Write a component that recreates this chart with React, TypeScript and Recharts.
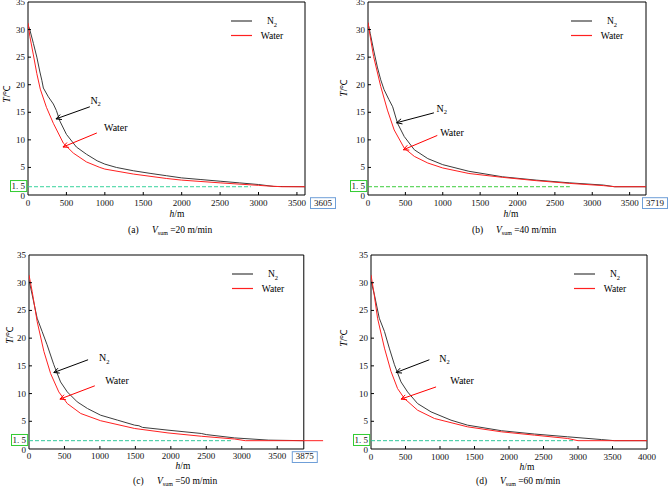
import React from "react";
import { LineChart, Line, XAxis, YAxis, ReferenceArea, ReferenceLine, ReferenceDot, Legend } from "recharts";

// series names
const SERIES = ["N2", "Water"];
const SERIES_COLORS = ["#3c3c3c", "#ff2020"];

// sinking speed of each case, m/min
const SPEEDS = [20, 40, 50, 60];
const TAGS = ["(a)", "(b)", "(c)", "(d)"];
// depth where the pipe reaches the target temperature
const END_DEPTHS = [3605, 3719, 3875, 4000];
const TARGET_T = 1.5;

const X_TICKS = [0, 500, 1000, 1500, 2000, 2500, 3000, 3500];
const Y_TICKS = [0, 1.5, 5, 10, 15, 20, 25, 30, 35];
const Y_SIDE_TICKS = [5, 10, 15, 20, 25, 30];

// (a) 20 m/min
const hA_N2 = [0, 25, 70, 115, 155, 180, 200, 265, 330, 370, 415, 500, 630, 760, 900, 1000, 1150, 1370, 1600, 1800, 2000, 2250, 2500, 2750, 3000, 3200, 3605];
const tA_N2 = [30.9, 29.9, 27.5, 25.0, 22.3, 20.8, 19.4, 17.8, 16.5, 15.3, 13.4, 11.0, 8.7, 7.4, 6.2, 5.6, 5.0, 4.4, 3.9, 3.5, 3.1, 2.8, 2.5, 2.2, 1.9, 1.55, 1.5];
const hA_W = [0, 25, 70, 115, 160, 240, 330, 460, 590, 760, 935, 1000, 1370, 1800, 2000, 2500, 3000, 3100, 3300, 3605];
const tA_W = [31.2, 28.7, 25.4, 22.0, 19.2, 15.9, 13.0, 9.4, 7.6, 6.0, 5.0, 4.7, 3.8, 3.0, 2.7, 2.2, 1.75, 1.65, 1.5, 1.5];

// (b) 40 m/min
const hB_N2 = [0, 30, 75, 125, 170, 215, 280, 330, 395, 485, 620, 800, 1000, 1350, 1800, 2250, 2700, 3150, 3300, 3719];
const tB_N2 = [31.2, 29.3, 26.3, 23.2, 20.9, 19.1, 17.3, 16.0, 13.0, 10.6, 8.2, 6.6, 5.5, 4.3, 3.3, 2.7, 2.2, 1.8, 1.5, 1.5];
const hB_W = [0, 30, 75, 170, 260, 350, 485, 620, 800, 1000, 1350, 1800, 2250, 2700, 3150, 3300, 3719];
const tB_W = [31.3, 28.7, 25.1, 19.7, 15.4, 11.8, 8.5, 7.0, 5.8, 4.9, 3.9, 3.2, 2.6, 2.1, 1.7, 1.5, 1.5];

// (c) 50 m/min
const hC_N2 = [0, 45, 115, 185, 255, 350, 445, 540, 680, 825, 1010, 1250, 1490, 1550, 1600, 1960, 2430, 2500, 2900, 3380, 3875];
const tC_N2 = [30.5, 27.8, 23.6, 21.2, 18.8, 15.2, 12.1, 10.3, 8.5, 7.3, 6.1, 5.2, 4.3, 4.2, 3.9, 3.4, 2.8, 2.6, 2.0, 1.6, 1.5];
const hC_W = [0, 45, 115, 210, 305, 420, 540, 730, 1010, 1490, 1960, 2430, 2900, 3050, 4150];
const tC_W = [31.4, 28.4, 23.0, 17.6, 13.6, 10.3, 8.2, 6.4, 5.1, 3.7, 2.9, 2.3, 1.8, 1.5, 1.5];

// (d) 60 m/min
const hD_N2 = [0, 50, 120, 195, 265, 340, 435, 530, 675, 870, 1160, 1400, 1890, 2370, 2850, 3340, 3530, 4000];
const tD_N2 = [30.3, 27.8, 23.6, 21.2, 18.2, 15.2, 12.1, 10.3, 8.2, 6.7, 5.2, 4.3, 3.3, 2.7, 2.2, 1.7, 1.5, 1.5];
const hD_W = [0, 40, 95, 195, 290, 385, 485, 675, 920, 1400, 1890, 2370, 2850, 3000, 4000];
const tD_W = [31.4, 28.4, 23.6, 18.2, 14.0, 10.9, 9.1, 7.0, 5.5, 4.0, 3.1, 2.5, 1.9, 1.5, 1.5];

type Pt = { h: number; T: number };
const zip = (hs: number[], ts: number[]): Pt[] => hs.map((h, i) => ({ h, T: ts[i] }));

const FONT = "'Liberation Serif', 'Times New Roman', serif";
const L = 36;
const TOP = 8;
const R = 38;
const B = 42;

type Anno = { text: [number, number]; tail: [number, number]; head: [number, number] };

type PanelCfg = {
  idx: number;
  left: number;
  top: number;
  w: number;
  h: number;
  xMax: number;
  n2: Pt[];
  water: Pt[];
  boxDx: number;
  dashEnd: number;
  dashColor: string;
  xTitle: [number, number];
  yTitle: [number, number];
  caption: [number, number];
  rightTicks: boolean;
  n2Anno: Anno;
  wAnno: Anno;
};

const PANELS: PanelCfg[] = [
  {
    idx: 0, left: 28, top: 2, w: 277, h: 193, xMax: END_DEPTHS[0],
    n2: zip(hA_N2, tA_N2), water: zip(hA_W, tA_W),
    boxDx: 18, dashEnd: 2900, dashColor: "#36d39c", xTitle: [149, 22], yTitle: [-21, 92], caption: [128, 232.5], rightTicks: true,
    n2Anno: { text: [880, 17.2], tail: [805, 16.0], head: [364, 13.8] },
    wAnno: { text: [1143, 12.2], tail: [896, 11.25], head: [455, 8.7] },
  },
  {
    idx: 1, left: 368, top: 2, w: 278, h: 193, xMax: END_DEPTHS[1],
    n2: zip(hB_N2, tB_N2), water: zip(hB_W, tB_W),
    boxDx: 9, dashEnd: 2700, dashColor: "#3ccc3c", xTitle: [143, 22], yTitle: [-24, 86], caption: [472, 232.5], rightTicks: true,
    n2Anno: { text: [986, 15.7], tail: [882, 14.9], head: [382, 13.1] },
    wAnno: { text: [1123, 11.3], tail: [927, 10.8], head: [473, 8.2] },
  },
  {
    idx: 2, left: 29, top: 255, w: 294.3, h: 194, xMax: 4150,
    n2: zip(hC_N2, tC_N2), water: zip(hC_W, tC_W),
    boxDx: 1, dashEnd: 2850, dashColor: "#2fc79a", xTitle: [154, 20.5], yTitle: [-19, 80], caption: [133, 484], rightTicks: false,
    n2Anno: { text: [1061, 16.5], tail: [833, 16.1], head: [350, 13.8] },
    wAnno: { text: [1240, 12.3], tail: [928, 11.4], head: [436, 9.0] },
  },
  {
    idx: 3, left: 371, top: 255, w: 276, h: 194, xMax: END_DEPTHS[3],
    n2: zip(hD_N2, tD_N2), water: zip(hD_W, tD_W),
    boxDx: 0, dashEnd: 2950, dashColor: "#2fc79a", xTitle: [156, 20.5], yTitle: [-27, 83], caption: [476, 484], rightTicks: true,
    n2Anno: { text: [1064, 16.4], tail: [846, 16.1], head: [363, 13.8] },
    wAnno: { text: [1320, 12.3], tail: [943, 11.2], head: [435, 9.0] },
  },
];

const BOX_GREEN = "#33cc33";
const BOX_BLUE = "#6f9fd8";

function arrowShape(color: string) {
  return (props: any) => {
    const { x1, y1, x2, y2 } = props;
    const a = Math.atan2(y2 - y1, x2 - x1);
    const len = 6;
    const spread = 0.45;
    const p1 = `${x2 - len * Math.cos(a - spread)},${y2 - len * Math.sin(a - spread)}`;
    const p2 = `${x2 - len * Math.cos(a + spread)},${y2 - len * Math.sin(a + spread)}`;
    return (
      <g>
        <line x1={x1} y1={y1} x2={x2} y2={y2} stroke={color} strokeWidth={1} />
        <polyline points={`${p1} ${x2},${y2} ${p2}`} fill="none" stroke={color} strokeWidth={1} />
      </g>
    );
  };
}

function textShape(label: string, sub?: string) {
  return (props: any) => (
    <text x={props.cx} y={props.cy} textAnchor="middle" dominantBaseline="central" fontFamily={FONT} fontSize={10} fill="#000">
      {label}
      {sub && (
        <tspan fontSize={6.5} dy={3}>
          {sub}
        </tspan>
      )}
    </text>
  );
}

function Panel({ p }: { p: PanelCfg }) {
  const W = L + p.w + R;
  const H = TOP + p.h + B;
  const boxValue = p.idx === 3 ? -1 : END_DEPTHS[p.idx];
  const xTicks = p.idx === 3 ? [...X_TICKS, 4000] : [...X_TICKS, END_DEPTHS[p.idx]];
  const frameRight = END_DEPTHS[p.idx];

  const bottomTick = (t: any) => {
    const { x, y, payload } = t;
    const v = payload.value;
    const boxed = v === boxValue;
    const edge = v === 0 || v === p.xMax || boxed;
    const tx = boxed ? x + p.boxDx : x;
    return (
      <g>
        {!edge && <line x1={x} y1={y} x2={x} y2={y - 3} stroke="#000" />}
        <text x={tx} y={y + 10.5} textAnchor="middle" fontFamily={FONT} fontSize={9} fill="#111">
          {v}
        </text>
        {boxed && <rect x={tx - 12.5} y={y + 2.7} width={25} height={10.8} fill="none" stroke={BOX_BLUE} />}
      </g>
    );
  };

  const leftTick = (t: any) => {
    const { x, y, payload } = t;
    const v = payload.value;
    const boxed = v === TARGET_T;
    const edge = v === 0 || v === 35 || boxed;
    return (
      <g>
        {!edge && <line x1={x} y1={y} x2={x + 3} y2={y} stroke="#000" />}
        <text
          x={x - 3}
          y={boxed ? y - 0.6 : v === 0 ? y + 0.8 : y}
          textAnchor="end"
          dominantBaseline="central"
          fontFamily={FONT}
          fontSize={9}
          fill="#111"
        >
          {boxed ? "1. 5" : v}
        </text>
        {boxed && <rect x={x - 17.5} y={y - 6.2} width={16.2} height={11} fill="none" stroke={BOX_GREEN} />}
      </g>
    );
  };

  const topTick = (t: any) => {
    const { x, y, payload } = t;
    if (payload.value === 0 || payload.value >= frameRight) return <g />;
    return <line x1={x} y1={y} x2={x} y2={y + 3} stroke="#000" />;
  };

  const rightTick = (t: any) => {
    const { x, y } = t;
    return <line x1={x} y1={y} x2={x - 3} y2={y} stroke="#000" />;
  };

  const xTitle = (lp: any) => {
    const vb = lp.viewBox;
    return (
      <text x={vb.x + p.xTitle[0]} y={vb.y + p.xTitle[1]} textAnchor="middle" fontFamily={FONT} fontSize={9.5} fill="#000">
        <tspan fontStyle="italic">h</tspan>/m
      </text>
    );
  };

  const yTitle = (lp: any) => {
    const vb = lp.viewBox;
    const cx = vb.x + L + p.yTitle[0];
    const cy = vb.y + p.yTitle[1];
    return (
      <text
        x={cx}
        y={cy}
        transform={`rotate(-90 ${cx} ${cy})`}
        textAnchor="middle"
        dominantBaseline="central"
        fontFamily={FONT}
        fontSize={9.5}
        fill="#000"
      >
        <tspan fontStyle="italic">T</tspan>/℃
      </text>
    );
  };

  const legendContent = () => (
    <svg width={80} height={30} style={{ display: "block", overflow: "visible" }}>
      {SERIES.map((name, i) => (
        <g key={name}>
          <line x1={0} y1={7 + i * 14.5} x2={21} y2={7 + i * 14.5} stroke={SERIES_COLORS[i]} strokeWidth={1.2} />
          <text x={41} y={7 + i * 14.5} textAnchor="middle" dominantBaseline="central" fontFamily={FONT} fontSize={9.5} fill="#000">
            {name === "N2" ? "N" : name}
            {name === "N2" && (
              <tspan fontSize={6.5} dy={2.5}>
                2
              </tspan>
            )}
          </text>
        </g>
      ))}
    </svg>
  );

  return (
    <div style={{ position: "absolute", left: p.left - L, top: p.top - TOP }}>
      <LineChart width={W} height={H} margin={{ top: TOP, right: R, bottom: 0, left: 0 }}>
        <XAxis
          dataKey="h"
          type="number"
          domain={[0, p.xMax]}
          ticks={xTicks}
          interval={0}
          height={B}
          axisLine={false}
          tickLine={false}
          tickSize={0}
          tickMargin={0}
          tick={bottomTick}
          label={xTitle}
          allowDataOverflow
        />
        <XAxis
          xAxisId="top"
          orientation="top"
          type="number"
          domain={[0, p.xMax]}
          ticks={X_TICKS}
          interval={0}
          height={0}
          axisLine={false}
          tickLine={false}
          tickSize={0}
          tickMargin={0}
          tick={topTick}
        />
        <YAxis
          type="number"
          domain={[0, 35]}
          ticks={Y_TICKS}
          interval={0}
          width={L}
          axisLine={false}
          tickLine={false}
          tickSize={0}
          tickMargin={0}
          tick={leftTick}
          label={yTitle}
        />
        {p.rightTicks && (
          <YAxis
            yAxisId="right"
            orientation="right"
            type="number"
            domain={[0, 35]}
            ticks={Y_SIDE_TICKS}
            interval={0}
            width={0}
            axisLine={false}
            tickLine={false}
            tickSize={0}
            tickMargin={0}
            tick={rightTick}
          />
        )}
        <ReferenceArea x1={0} x2={frameRight} y1={0} y2={35} fill="none" stroke="#000" strokeWidth={1} />
        <ReferenceLine
          segment={[
            { x: 0, y: TARGET_T },
            { x: p.dashEnd, y: TARGET_T },
          ]}
          stroke={p.dashColor}
          strokeDasharray="4 2"
          strokeWidth={1}
        />
        <Line data={p.n2} dataKey="T" name={SERIES[0]} type="linear" stroke={SERIES_COLORS[0]} strokeWidth={1} dot={false} isAnimationActive={false} />
        <Line data={p.water} dataKey="T" name={SERIES[1]} type="linear" stroke={SERIES_COLORS[1]} strokeWidth={1} dot={false} isAnimationActive={false} />
        <ReferenceLine
          segment={[
            { x: p.n2Anno.tail[0], y: p.n2Anno.tail[1] },
            { x: p.n2Anno.head[0], y: p.n2Anno.head[1] },
          ]}
          shape={arrowShape("#000")}
        />
        <ReferenceLine
          segment={[
            { x: p.wAnno.tail[0], y: p.wAnno.tail[1] },
            { x: p.wAnno.head[0], y: p.wAnno.head[1] },
          ]}
          shape={arrowShape("#ff0000")}
        />
        <ReferenceDot x={p.n2Anno.text[0]} y={p.n2Anno.text[1]} r={1} shape={textShape("N", "2")} />
        <ReferenceDot x={p.wAnno.text[0]} y={p.wAnno.text[1]} r={1} shape={textShape("Water")} />
        <Legend
          layout="horizontal"
          verticalAlign="middle"
          align="center"
          content={legendContent}
          wrapperStyle={{ left: L + 203, top: TOP + 12, width: 80, height: 30 }}
        />
      </LineChart>
    </div>
  );
}

export default function App() {
  return (
    <div style={{ position: "absolute", left: 0, top: 0, width: 668, height: 491, background: "#fff", overflow: "hidden" }}>
      {PANELS.map((p) => (
        <Panel key={p.idx} p={p} />
      ))}
      <svg width={668} height={491} style={{ position: "absolute", left: 0, top: 0, pointerEvents: "none" }}>
        {PANELS.map((p) => (
          <text key={p.idx} x={p.caption[0]} y={p.caption[1]} fontFamily={FONT} fontSize={9.5} fill="#000">
            {TAGS[p.idx]}
            <tspan x={p.caption[0] + 24} fontStyle="italic">
              V
            </tspan>
            <tspan fontSize={6} dy={2}>
              sum
            </tspan>
            <tspan dy={-2}>{` =${SPEEDS[p.idx]} m/min`}</tspan>
          </text>
        ))}
      </svg>
    </div>
  );
}
